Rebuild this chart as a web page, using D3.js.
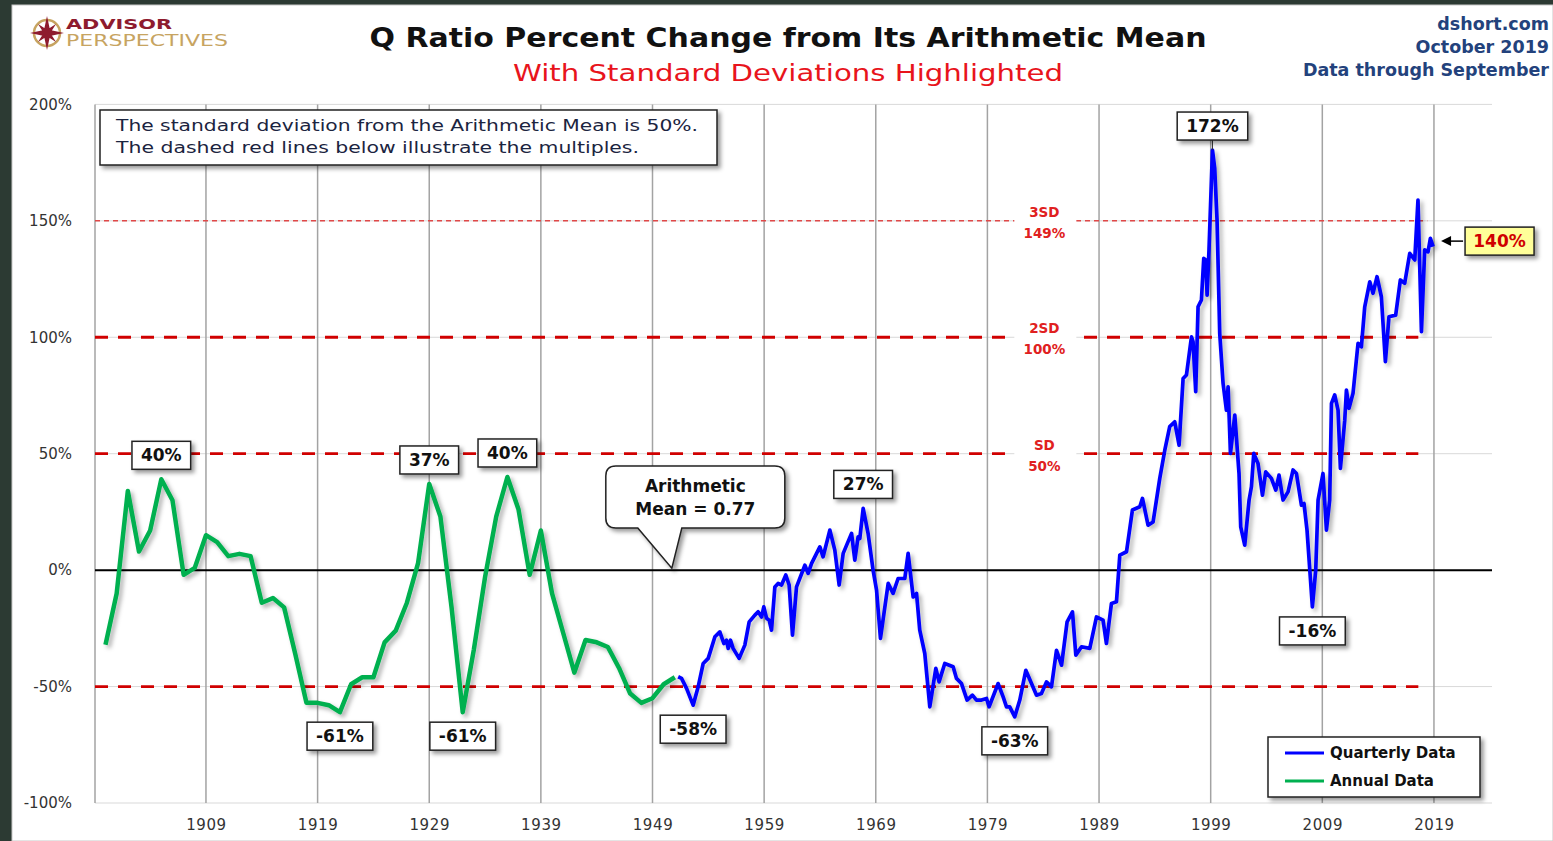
<!DOCTYPE html>
<meta charset="utf-8">
<head>
<style>
  body { margin: 0; background: #fff; }
  svg text { font-family: "DejaVu Sans", Verdana, sans-serif; }
  .axis path { display: none; }
  .axis text { fill: #333; font-size: 15px; }
</style>
</head>
<body>
<script src="https://d3js.org/d3.v7.min.js"></script>
<script>
// ---- data ----
var annualYears = [1900,1901,1902,1903,1904,1905,1906,1907,1908,1909,
  1910,1911,1912,1913,1914,1915,1916,1917,1918,1919,
  1920,1921,1922,1923,1924,1925,1926,1927,1928,1929,
  1930,1931,1932,1933,1934,1935,1936,1937,1938,1939,
  1940,1941,1942,1943,1944,1945,1946,1947,1948,1949,
  1950,1951];
var annualValues = [-32,-10,34,8,17,39,30,-2,1,15,
  12,6,7,6,-14,-12,-16,-36,-57,-57,
  -58,-61,-49,-46,-46,-31,-26,-14,3,37,
  23,-16,-61,-34,-3,23,40,26,-2,17,
  -10,-27,-44,-30,-31,-33,-42,-53,-57,-55,
  -49,-46];

var quarterlyYears = [
  1951.30,1951.60,1952.05,1952.64,1953.09,1953.54,1953.99,1954.59,1955.03,1955.39,
  1955.63,1955.78,1955.99,1956.22,1956.76,1957.27,1957.66,1958.17,1958.46,1958.77,
  1958.97,1959.22,1959.45,1959.66,1959.96,1960.25,1960.56,1960.94,1961.24,1961.54,
  1961.90,1962.65,1962.94,1963.25,1963.99,1964.28,1964.89,1965.33,1965.72,1966.08,
  1966.83,1967.12,1967.42,1967.57,1967.87,1968.31,1968.76,1969.07,1969.42,1970.11,
  1970.55,1971.00,1971.60,1971.90,1972.35,1972.65,1972.94,1973.39,1973.84,1974.38,
  1974.67,1975.18,1975.93,1976.23,1976.68,1977.18,1977.66,1978.02,1978.47,1978.92,
  1979.15,1979.96,1980.41,1980.71,1981.00,1981.45,1981.90,1982.44,1982.95,1983.40,
  1983.84,1984.29,1984.74,1985.19,1985.64,1986.14,1986.62,1986.92,1987.43,1988.17,
  1988.77,1989.36,1989.66,1990.11,1990.56,1990.86,1991.46,1991.99,1992.65,1992.89,
  1993.39,1993.84,1994.44,1994.89,1995.33,1995.78,1996.17,1996.53,1996.83,1997.28,
  1997.42,1997.66,1997.87,1998.17,1998.38,1998.56,1998.68,1998.85,1999.16,1999.36,
  1999.57,1999.81,2000.11,2000.41,2000.56,2000.77,2001.16,2001.54,2001.69,2002.05,
  2002.44,2002.65,2002.86,2003.24,2003.64,2003.93,2004.44,2004.83,2005.12,2005.48,
  2005.93,2006.38,2006.68,2007.13,2007.36,2007.63,2008.11,2008.41,2008.62,2009.06,
  2009.37,2009.66,2009.82,2010.11,2010.41,2010.62,2011.01,2011.16,2011.39,2011.75,
  2012.20,2012.50,2012.80,2013.25,2013.54,2013.90,2014.29,2014.65,2014.97,2015.57,
  2015.99,2016.38,2016.83,2017.28,2017.57,2017.88,2018.17,2018.47,2018.68,2018.92];
var quarterlyValues = [
  -45.8,-46.5,-50.8,-58.0,-50.1,-40.1,-37.9,-28.6,-26.5,-31.5,
  -30.1,-33.6,-30.1,-33.6,-37.9,-32.2,-22.2,-19.3,-17.9,-20.1,
  -15.8,-20.7,-21.5,-25.8,-7.2,-5.7,-6.4,-2.1,-6.4,-27.9,
  -7.2,2.1,-1.4,2.9,10.0,5.7,17.2,8.6,-6.4,7.2,
  15.8,4.3,14.3,13.6,26.5,15.8,0,-8.6,-29.3,-5.7,
  -10.0,-3.6,-3.6,7.2,-11.5,-10.0,-25.8,-35.8,-58.7,-42.2,
  -48.0,-40.1,-41.5,-46.5,-48.7,-55.8,-53.7,-55.8,-55.8,-55.1,
  -58.7,-48.7,-54.4,-58.7,-58.7,-63.0,-55.8,-43.0,-48.7,-53.7,
  -53.0,-48.0,-50.1,-34.4,-40.8,-22.2,-17.9,-36.5,-32.9,-33.6,
  -20.1,-21.5,-31.5,-14.3,-13.6,6.4,7.9,25.8,27.2,30.8,
  19.3,20.7,39.4,51.5,61.6,63.7,53.7,82.3,83.8,100.2,
  98.1,76.6,113.1,116.0,133.9,133.2,118.1,137.5,180.4,172.6,
  150.3,101.7,80.2,68.7,78.7,50.1,66.6,41.5,18.6,10.7,
  30.1,35.8,50.1,45.8,32.2,42.2,39.4,34.4,40.8,30.1,
  33.6,43.0,41.5,27.9,28.6,17.2,-15.8,0,30.1,41.5,
  17.2,30.1,71.6,75.2,68.7,43.7,64.4,77.3,69.5,75.9,
  97.4,95.9,113.1,123.8,118.9,126.0,117.4,89.5,108.8,109.5,
  124.6,123.2,136.0,133.2,158.9,102.4,137.5,136.7,142.5,138.9];

var yTicks = [-100, -50, 0, 50, 100, 150, 200];
var xTickYears = [1909, 1919, 1929, 1939, 1949, 1959, 1969, 1979, 1989, 1999, 2009, 2019];

var sdValues = [150, 100, 50, -50];
var sdNames = ["3SD", "2SD", "SD", ""];
var sdPercents = ["149%", "100%", "50%", ""];

var labelYears  = [1905, 1921, 1929, 1932, 1936, 1952.64, 1967.87, 1981.45, 1999.16, 2008.11];
var labelValues = [39, -61, 37, -61, 40, -58, 26.5, -63, 180.4, -15.8];
var labelTexts  = ["40%", "-61%", "37%", "-61%", "40%", "-58%", "27%", "-63%", "172%", "-16%"];
var labelSides  = [-1, 1, -1, 1, -1, 1, -1, 1, -1, 1];
var labelLeader = [false, false, false, false, false, false, false, false, true, false];

var latestValue = 140, latestText = "140%";
var meanYear = 1950.73, meanText = ["Arithmetic", "Mean = 0.77"];

// ---- layout ----
var W = 1553, H = 841;
var plot = {left: 95, right: 1492, top: 104.4, bottom: 803};

var x = d3.scaleLinear().domain([1899.06, 2024.2]).range([plot.left, plot.right]);
var y = d3.scaleLinear().domain([-100, 200]).range([plot.bottom, plot.top]);

var svg = d3.select("body").append("svg")
    .attr("width", W)
    .attr("height", H);

var defs = svg.append("defs");
var sh = defs.append("filter").attr("id", "shadow")
    .attr("x", "-20%").attr("y", "-20%").attr("width", "150%").attr("height", "160%");
sh.append("feDropShadow").attr("dx", 3).attr("dy", 3).attr("stdDeviation", 2)
    .attr("flood-color", "#000").attr("flood-opacity", 0.4);
var lsh = defs.append("filter").attr("id", "lineShadow")
    .attr("x", "-5%").attr("y", "-5%").attr("width", "110%").attr("height", "110%");
lsh.append("feDropShadow").attr("dx", 3).attr("dy", 3).attr("stdDeviation", 2)
    .attr("flood-color", "#000").attr("flood-opacity", 0.3);

// frame
svg.append("rect").attr("width", W).attr("height", H).attr("fill", "#2c3a33");
svg.append("rect").attr("x", 12).attr("y", 5).attr("width", W - 12).attr("height", H - 5)
    .attr("fill", "#fff").attr("stroke", "#c8c8c8");

// logo
var logo = svg.append("g").attr("transform", "translate(47,33)");
logo.append("circle").attr("r", 13).attr("fill", "none").attr("stroke", "#c7a461").attr("stroke-width", 2.5);
logo.append("path")
    .attr("d", "M0,-17 L3,-3 L17,0 L3,3 L0,17 L-3,3 L-17,0 L-3,-3 Z M-9,-9 L2,-2 L9,9 L-2,2 Z M9,-9 L2,2 L-9,9 L-2,-2 Z")
    .attr("fill", "#8e1b2e");
svg.append("text").attr("x", 66).attr("y", 29).text("ADVISOR")
    .attr("font-size", 14).attr("font-weight", "bold").attr("fill", "#8e1b2e")
    .attr("textLength", 106).attr("lengthAdjust", "spacingAndGlyphs");
svg.append("text").attr("x", 66).attr("y", 46).text("PERSPECTIVES")
    .attr("font-size", 15.5).attr("fill", "#c7a461")
    .attr("textLength", 162).attr("lengthAdjust", "spacingAndGlyphs");

// titles
svg.append("text").attr("x", 788).attr("y", 47).attr("text-anchor", "middle")
    .attr("font-size", 26).attr("font-weight", "bold").attr("fill", "#111")
    .attr("textLength", 837).attr("lengthAdjust", "spacingAndGlyphs")
    .text("Q Ratio Percent Change from Its Arithmetic Mean");
svg.append("text").attr("x", 788).attr("y", 81).attr("text-anchor", "middle")
    .attr("font-size", 23).attr("fill", "#e8141c")
    .attr("textLength", 550).attr("lengthAdjust", "spacingAndGlyphs")
    .text("With Standard Deviations Highlighted");

["dshort.com", "October 2019", "Data through September"].forEach(function(t, i) {
  svg.append("text").attr("x", 1549).attr("y", 30 + i * 23).attr("text-anchor", "end")
      .attr("font-size", 17.5).attr("font-weight", "bold").attr("fill", "#23427c").text(t);
});

// grid
svg.append("g").selectAll("line").data(yTicks).enter().append("line")
    .attr("x1", plot.left).attr("x2", plot.right)
    .attr("y1", function(d) { return y(d); }).attr("y2", function(d) { return y(d); })
    .attr("stroke", "#d9d9d9").attr("stroke-width", 1);
svg.append("g").selectAll("line").data([x.domain()[0]].concat(xTickYears)).enter().append("line")
    .attr("x1", function(d) { return x(d); }).attr("x2", function(d) { return x(d); })
    .attr("y1", plot.top).attr("y2", plot.bottom)
    .attr("stroke", "#a3a3a3").attr("stroke-width", 1.5);

// axes
svg.append("g").attr("class", "axis")
    .attr("transform", "translate(" + (plot.left - 23) + ",0)")
    .call(d3.axisLeft(y).tickValues(yTicks).tickSize(0).tickPadding(0)
      .tickFormat(function(d) { return d + "%"; }));
svg.append("g").attr("class", "axis")
    .attr("transform", "translate(0," + plot.bottom + ")")
    .call(d3.axisBottom(x).tickValues(xTickYears).tickSize(0).tickPadding(16)
      .tickFormat(d3.format("d")))
    .selectAll("text").attr("letter-spacing", 0.6);

// standard deviation lines
var sdEnd = 2017.6;
sdValues.forEach(function(v, i) {
  svg.append("line")
      .attr("x1", plot.left).attr("x2", x(i === 0 ? 2018.4 : sdEnd))
      .attr("y1", y(v)).attr("y2", y(v))
      .attr("stroke", i === 0 ? "#e04848" : "#d00000")
      .attr("stroke-width", i === 0 ? 1.5 : 2.8)
      .attr("stroke-dasharray", i === 0 ? "5,4" : "13,10");
});

// zero line
svg.append("line").attr("x1", plot.left).attr("x2", plot.right)
    .attr("y1", y(0)).attr("y2", y(0)).attr("stroke", "#000").attr("stroke-width", 2);

// SD labels
var sdLabelYear = 1984.1;
sdValues.forEach(function(v, i) {
  if (!sdNames[i]) return;
  var cx = x(sdLabelYear);
  svg.append("rect").attr("x", cx - 30).attr("y", y(v) - 15).attr("width", 62).attr("height", 38)
      .attr("fill", "#fff");
  svg.append("text").attr("x", cx).attr("y", y(v) - 4).attr("text-anchor", "middle")
      .attr("font-size", 13.5).attr("font-weight", "bold").attr("fill", "#e02020").text(sdNames[i]);
  svg.append("text").attr("x", cx).attr("y", y(v) + 17).attr("text-anchor", "middle")
      .attr("font-size", 13.5).attr("font-weight", "bold").attr("fill", "#e02020").text(sdPercents[i]);
});

// series
var line = d3.line()
    .x(function(d) { return x(d[0]); })
    .y(function(d) { return y(d[1]); });

svg.append("path")
    .datum(d3.zip(annualYears, annualValues))
    .attr("d", line)
    .attr("fill", "none").attr("stroke", "#00b050").attr("stroke-width", 4.5)
    .attr("stroke-linejoin", "round").attr("filter", "url(#lineShadow)");

svg.append("path")
    .datum(d3.zip(quarterlyYears, quarterlyValues))
    .attr("d", line)
    .attr("fill", "none").attr("stroke", "#0000ff").attr("stroke-width", 3.7)
    .attr("stroke-linejoin", "round").attr("filter", "url(#lineShadow)");

// note box
var note = svg.append("g");
note.append("rect").attr("x", 100).attr("y", 110).attr("width", 617).attr("height", 55)
    .attr("fill", "#fff").attr("stroke", "#222").attr("stroke-width", 1.5).attr("filter", "url(#shadow)");
note.append("text").attr("x", 116).attr("y", 131).attr("font-size", 16.5).attr("fill", "#1b2440")
    .attr("textLength", 582).attr("lengthAdjust", "spacingAndGlyphs")
    .text("The standard deviation from the Arithmetic Mean is 50%.");
note.append("text").attr("x", 116).attr("y", 153).attr("font-size", 16.5).attr("fill", "#1b2440")
    .attr("textLength", 523).attr("lengthAdjust", "spacingAndGlyphs")
    .text("The dashed red lines below illustrate the multiples.");

// peak / trough labels
labelTexts.forEach(function(t, i) {
  var px = x(labelYears[i]), py = y(labelValues[i]);
  var cy = py + labelSides[i] * 24;
  var g = svg.append("g");
  if (labelLeader[i]) {
    g.append("line").attr("x1", px).attr("x2", px).attr("y1", cy + 14).attr("y2", py)
        .attr("stroke", "#333").attr("stroke-width", 1);
  }
  var rect = g.append("rect");
  var txt = g.append("text").attr("x", px).attr("y", cy + 6).attr("text-anchor", "middle")
      .attr("font-size", 17).attr("font-weight", "bold").attr("fill", "#111").text(t);
  var bb = txt.node().getBBox();
  rect.attr("x", px - bb.width / 2 - 9).attr("y", cy - 14)
      .attr("width", bb.width + 18).attr("height", 28)
      .attr("fill", "#fff").attr("stroke", "#222").attr("stroke-width", 1.5)
      .attr("filter", "url(#shadow)");
});

// latest value label
var lastX = x(quarterlyYears[quarterlyYears.length - 1]);
var ly = y(latestValue) - 3;
svg.append("line").attr("x1", lastX + 30).attr("x2", lastX + 16).attr("y1", ly).attr("y2", ly)
    .attr("stroke", "#000").attr("stroke-width", 1.5);
svg.append("path").attr("d", "M" + (lastX + 8) + "," + ly + " l10,-5 l0,10 Z").attr("fill", "#000");
svg.append("rect").attr("x", lastX + 32).attr("y", ly - 14).attr("width", 69).attr("height", 28)
    .attr("fill", "#ffff99").attr("stroke", "#222").attr("stroke-width", 1.5).attr("filter", "url(#shadow)");
svg.append("text").attr("x", lastX + 66.5).attr("y", ly + 6).attr("text-anchor", "middle")
    .attr("font-size", 17).attr("font-weight", "bold").attr("fill", "#d00000").text(latestText);

// arithmetic mean callout
var tipX = x(meanYear), tipY = y(0) - 2;
var bx = tipX - 66, by = 466, bw = 179, bh = 62, r = 10;
var callout = "M" + (bx + r) + "," + by +
  " H" + (bx + bw - r) + " Q" + (bx + bw) + "," + by + " " + (bx + bw) + "," + (by + r) +
  " V" + (by + bh - r) + " Q" + (bx + bw) + "," + (by + bh) + " " + (bx + bw - r) + "," + (by + bh) +
  " H" + (tipX + 10) + " L" + tipX + "," + tipY + " L" + (tipX - 34) + "," + (by + bh) +
  " H" + (bx + r) + " Q" + bx + "," + (by + bh) + " " + bx + "," + (by + bh - r) +
  " V" + (by + r) + " Q" + bx + "," + by + " " + (bx + r) + "," + by + " Z";
svg.append("path").attr("d", callout)
    .attr("fill", "#fff").attr("stroke", "#222").attr("stroke-width", 1.5).attr("filter", "url(#shadow)");
meanText.forEach(function(t, i) {
  svg.append("text").attr("x", bx + bw / 2).attr("y", by + 26 + i * 23).attr("text-anchor", "middle")
      .attr("font-size", 17).attr("font-weight", "bold").attr("fill", "#111").text(t);
});

// legend
var lg = svg.append("g").attr("transform", "translate(1268,737)");
lg.append("rect").attr("width", 212).attr("height", 60)
    .attr("fill", "#fff").attr("stroke", "#222").attr("stroke-width", 1.5).attr("filter", "url(#shadow)");
[["Quarterly Data", "#0000ff"], ["Annual Data", "#00b050"]].forEach(function(d, i) {
  lg.append("line").attr("x1", 17).attr("x2", 56).attr("y1", 16 + i * 28).attr("y2", 16 + i * 28)
      .attr("stroke", d[1]).attr("stroke-width", 3);
  lg.append("text").attr("x", 62).attr("y", 21 + i * 28).attr("font-size", 15)
      .attr("font-weight", "bold").attr("fill", "#111").text(d[0]);
});
</script>
</body>
